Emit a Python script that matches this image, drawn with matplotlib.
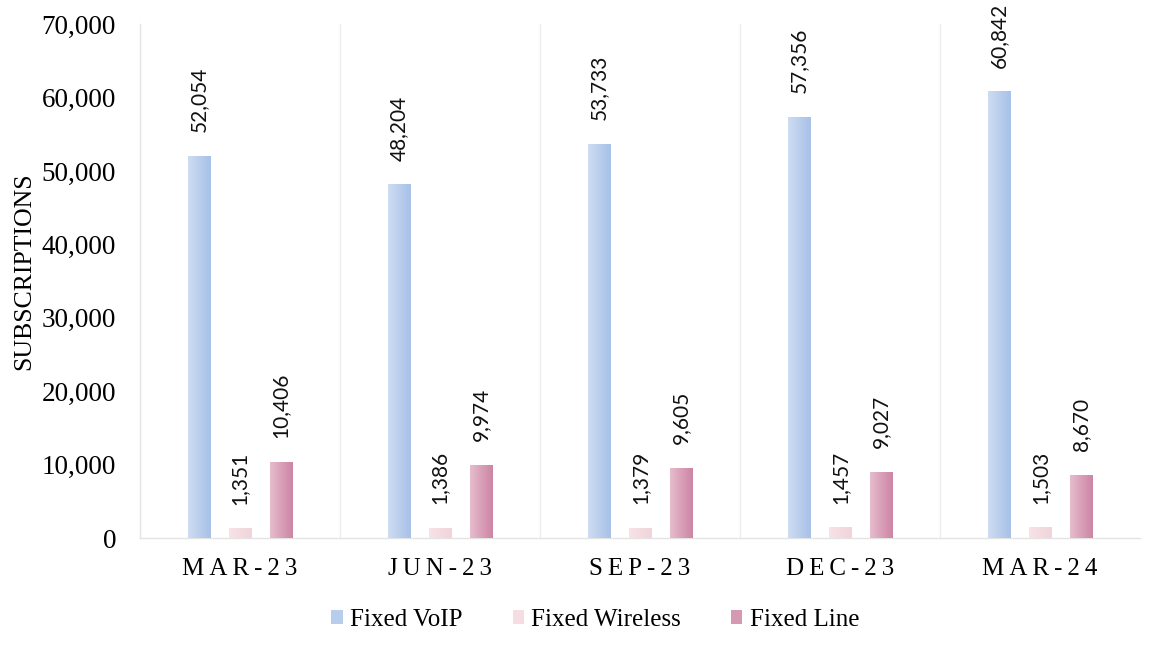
import numpy as np
import matplotlib
matplotlib.use("Agg")
import matplotlib.pyplot as plt
from matplotlib.colors import LinearSegmentedColormap
from matplotlib.patches import Patch

quarters = ["MAR-23", "JUN-23", "SEP-23", "DEC-23", "MAR-24"]
fixed_voip = [52054, 48204, 53733, 57356, 60842]
fixed_wireless = [1351, 1386, 1379, 1457, 1503]
fixed_line = [10406, 9974, 9605, 9027, 8670]
series_names = ["Fixed VoIP", "Fixed Wireless", "Fixed Line"]

serif = ["Liberation Serif", "DejaVu Serif"]
label_font = ["Lato", "DejaVu Sans"]

# left/right colours of each series' horizontal gradient
gradients = [("#cddcf1", "#a8c1e8"), ("#f8e3e8", "#f1d4da"), ("#e6bccd", "#cd84a4")]
legend_colors = ["#b8cdeb", "#f5dde3", "#d699b3"]

fig = plt.figure(figsize=(11.54, 6.5), dpi=100)
ax = fig.add_axes([0.121, 0.172, 0.867, 0.791])

x = np.arange(len(quarters))
width = 0.11
offsets = [-0.205, 0.0, 0.205]
data = [fixed_voip, fixed_wireless, fixed_line]

grad = np.linspace(0, 1, 64).reshape(1, -1)
for vals, off, (c0, c1) in zip(data, offsets, gradients):
    cmap = LinearSegmentedColormap.from_list("g", [c0, c1])
    bars = ax.bar(x + off, vals, width, color=c1, edgecolor="none", zorder=2)
    for b, v in zip(bars, vals):
        x0 = b.get_x()
        im = ax.imshow(grad, cmap=cmap, aspect="auto",
                       extent=[x0, x0 + b.get_width(), 0, v], zorder=3)
        im.set_clip_path(b)
        ax.annotate(f"{v:,}", (b.get_x() + b.get_width() / 2, v),
                    xytext=(0, 17), textcoords="offset points",
                    rotation=90, ha="center", va="bottom",
                    fontsize=15, family=label_font, color="#111111", zorder=4)

ax.set_xlim(-0.5, len(quarters) - 0.5)
ax.set_ylim(0, 70000)
ax.set_yticks(np.arange(0, 70001, 10000))
ax.set_yticklabels([f"{v:,}" for v in range(0, 70001, 10000)],
                   family=serif, fontsize=19.5)
ax.set_xticks(x)
ax.set_xticklabels(["\u2009".join(q) for q in quarters], family=serif, fontsize=18)
ax.tick_params(axis="both", length=0)
ax.tick_params(axis="x", pad=14)
ax.tick_params(axis="y", pad=17)

for b in np.arange(0.5, len(quarters) - 0.5, 1.0):
    ax.axvline(b, color="#ececec", lw=1, zorder=1)

for s in ["top", "right"]:
    ax.spines[s].set_visible(False)
for s in ["left", "bottom"]:
    ax.spines[s].set_color("#e4e4e4")
    ax.spines[s].set_linewidth(1)

ax.set_ylabel("SUBSCRIPTIONS", family=serif, fontsize=18.5)
ax.yaxis.set_label_coords(-0.104, 0.52)

handles = [Patch(facecolor=c, edgecolor="none") for c in legend_colors]
fig.legend(handles, series_names, loc="center", bbox_to_anchor=(0.516, 0.046),
           ncol=3, frameon=False, prop={"family": serif, "size": 18},
           handlelength=0.45, handleheight=0.45, handletextpad=0.3, columnspacing=2.0)

fig.savefig("out.png", dpi=100, facecolor="white")
